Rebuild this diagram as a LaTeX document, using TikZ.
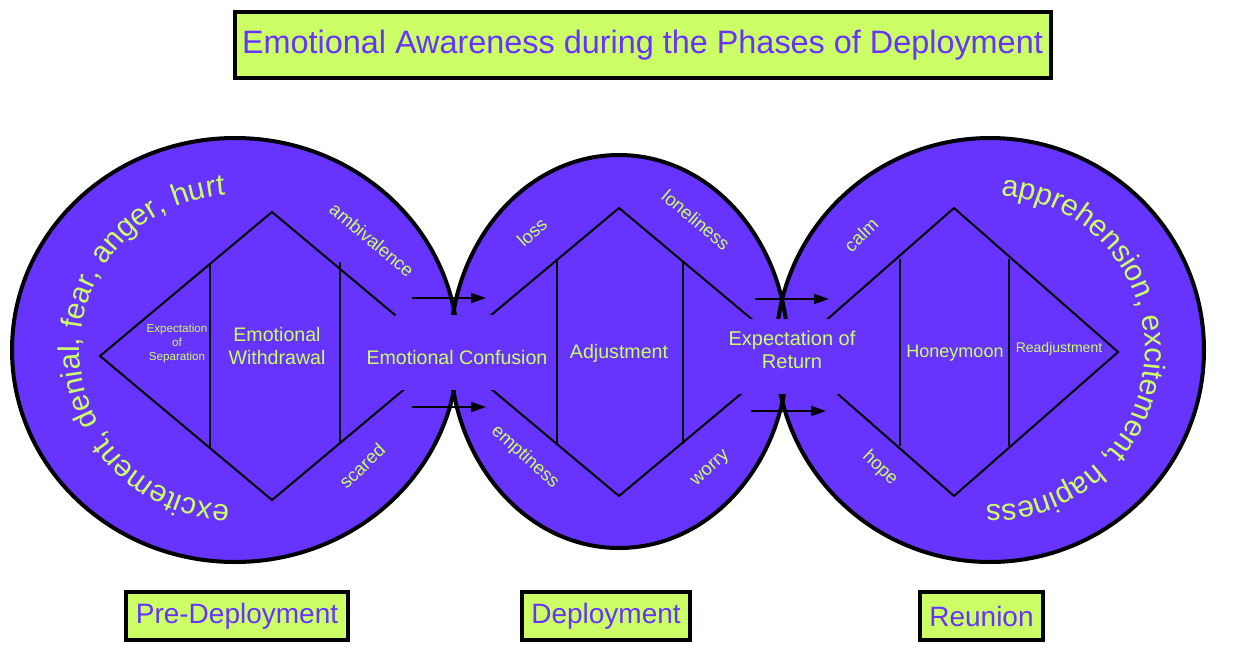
\documentclass[tikz,border=0pt]{standalone}
\usepackage{fontspec}
\setmainfont{Liberation Sans}
\usetikzlibrary{arrows.meta,decorations.text}
\definecolor{phasefill}{HTML}{6633FF}
\definecolor{phaselime}{HTML}{CCFF66}

\begin{document}
\begin{tikzpicture}[x=0.5pt,y=0.5pt]
	\tikzset{
		circ/.style={fill=phasefill},
		rim/.style={draw=black,line width=2pt},
		dline/.style={draw=black,line width=1pt},
		inner/.style={text=phaselime,inner sep=0pt,align=center,font=\fontsize{9.8}{11.5}\selectfont},
		feel/.style={text=phaselime,inner sep=0pt,font=\fontsize{9.2}{10}\selectfont},
		phase/.style={draw=black,line width=2pt,fill=phaselime,text=phasefill,inner sep=0pt,minimum height=24pt,font=\fontsize{14}{16}\selectfont},
		pointer/.style={line width=1pt,-{Triangle[length=7.5pt,width=5pt]}},
		around/.style={decorate,decoration={text along path,text align=left,text={#1}}}
	}
	\useasboundingbox (0,0) rectangle (1254,-654);

	\node[phase,minimum width=408pt,minimum height=32.8pt,font=\fontsize{16.2}{19}\selectfont] (title) at (642.5,-45) {Emotional Awareness during the Phases of Deployment};

	\foreach \cx/\cy/\rx/\ry in {235/350/223/212,619/351.5/169/196.5,990/350/214/212}
		\fill[circ] (\cx,-\cy) ellipse [x radius=\rx,y radius=\ry];
	\foreach \cx/\cy/\rx/\ry in {235/350/223/212,619/351.5/169/196.5,990/350/214/212}
		\draw[rim] (\cx,-\cy) ellipse [x radius=\rx,y radius=\ry];

	\draw[dline] (100,-356) -- (272,-212) -- (444,-356) -- (272,-500) -- cycle;
	\draw[dline] (447,-352) -- (619,-208) -- (791,-352) -- (619,-496) -- cycle;
	\draw[dline] (790,-352) -- (954,-208) -- (1118,-352) -- (954,-496) -- cycle;
	\foreach \x/\ya/\yb in {210/263/448,340/262/443,557/261/443,683/261/444,900/259/446,1009/259/446}
		\draw[dline] (\x,-\ya) -- (\x,-\yb);

	\fill[circ] (395,-315) rectangle (496,-390);
	\fill[circ] (739,-319) rectangle (841,-394);

	\coordinate (p1) at (412,-298);
	\coordinate (q1) at (486,-298);
	\coordinate (p2) at (412,-407);
	\coordinate (q2) at (486,-407);
	\coordinate (p3) at (755,-299);
	\coordinate (q3) at (829,-299);
	\coordinate (p4) at (751,-411);
	\coordinate (q4) at (826,-411);
	\draw[pointer] (p1) -- (q1);
	\draw[pointer] (p2) -- (q2);
	\draw[pointer] (p3) -- (q3);
	\draw[pointer] (p4) -- (q4);

	\node[inner,font=\fontsize{5.8}{6.8}\selectfont] (sep) at (177,-343.5) {Expectation\\of\\Separation};
	\node[inner] (wd) at (277,-345.5) {Emotional\\Withdrawal};
	\node[inner] (conf) at (457,-357) {Emotional Confusion};
	\node[inner] (adj) at (619,-353) {Adjustment};
	\node[inner,font=\fontsize{10}{11.5}\selectfont] (ret) at (792,-349.5) {Expectation of\\Return};
	\node[inner,font=\fontsize{9}{11}\selectfont] (honey) at (955,-353) {Honeymoon};
	\node[inner,font=\fontsize{7}{8}\selectfont] (readj) at (1059,-349) {Readjustment};

	\node[feel,rotate=-40] (amb) at (372,-240) {ambivalence};
	\node[feel,rotate=44] (scar) at (362,-466) {scared};
	\node[feel,rotate=42] (loss) at (532,-232) {loss};
	\node[feel,rotate=-40] (lone) at (696,-220) {loneliness};
	\node[feel,rotate=-42] (empt) at (525,-457) {emptiness};
	\node[feel,rotate=42] (worry) at (711,-469) {worry};
	\node[feel,rotate=44] (calm) at (861,-235) {calm};
	\node[feel,rotate=-44] (hope) at (880,-468) {hope};

	\path[around={|\color{phaselime}\fontsize{15}{17}\selectfont|excitement, denial, fear, anger, hurt}] (229.6,-504.9) arc[start angle=268,end angle=40,radius=155];
	\path[around={|\color{phaselime}\fontsize{15}{17}\selectfont|apprehension, excitement, hapiness}] (1000.8,-195.4) arc[start angle=86,end angle=-140,radius=155];

	\node[phase,minimum width=111pt] (pre) at (237,-616) {Pre-Deployment};
	\node[phase,minimum width=84pt] (dep) at (606,-616) {Deployment};
	\node[phase,minimum width=61.5pt] (reu) at (981.5,-616) {Reunion};
\end{tikzpicture}
\end{document}
